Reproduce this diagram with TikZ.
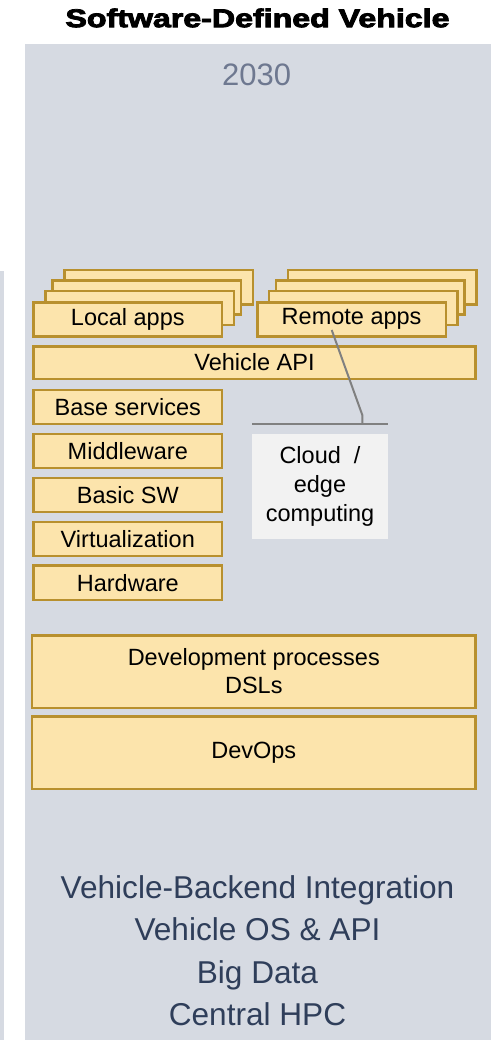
\documentclass[tikz,border=0pt]{standalone}
\usepackage{fontspec}
\usepackage{graphicx}
\setmainfont{Liberation Sans}
\newfontfamily\titlefont[FakeBold=3]{Liberation Sans Bold}

\definecolor{panelgray}{RGB}{214,218,226}
\definecolor{boxfill}{RGB}{252,228,172}
\definecolor{boxedge}{RGB}{184,144,46}
\definecolor{cloudfill}{RGB}{242,242,242}
\definecolor{linkgray}{RGB}{128,128,128}
\definecolor{yeargray}{RGB}{110,120,144}
\definecolor{navytext}{RGB}{47,62,90}

\tikzset{
  layerbox/.style={draw=boxedge, fill=boxfill, line width=2.5pt, inner sep=0pt,
    minimum width=188.5pt, minimum height=34.1pt, align=center,
    font=\fontsize{23.5}{29}\selectfont},
  widebox/.style={layerbox, minimum width=442pt},
  link/.style={draw=linkgray, line width=2pt},
}

\begin{document}
\begin{tikzpicture}[x=1pt, y=-1pt]
\useasboundingbox (0,0) rectangle (495,1040);

% background panels
\fill[panelgray] (25,44) rectangle (491,1040);
\fill[panelgray] (0,271) rectangle (4,1040);

% heading and year
\node (title) at (257.5,18)
  {\resizebox{384pt}{18.6pt}{\titlefont Software-Defined Vehicle}};
\node[text=yeargray, font=\fontsize{31}{36}\selectfont] (year) at (256.7,74.5) {2030};

% stacked application boxes
\node[layerbox] (la4) at (158.8,287.3) {};
\node[layerbox] (la3) at (146.5,297.6) {};
\node[layerbox] (la2) at (139.8,308) {};
\node[layerbox] (local) at (127.8,319.3) {Local apps};

\node[layerbox] (ra4) at (382.3,287.3) {};
\node[layerbox] (ra3) at (370.3,297.6) {};
\node[layerbox] (ra2) at (363,308) {};
\node[layerbox] (remote) at (351.6,319.3) {Remote apps};

\node[widebox, minimum height=32.5pt] (api) at (254.5,362.5) {Vehicle API};

% vehicle software layers
\node[layerbox] (base) at (127.8,407) {Base services};
\node[layerbox] (mw) at (127.8,451) {Middleware};
\node[layerbox] (bsw) at (127.8,495) {Basic SW};
\node[layerbox] (virt) at (127.8,539) {Virtualization};
\node[layerbox] (hw) at (127.8,582.7) {Hardware};

% off-board computing
\node[fill=cloudfill, minimum width=135.4pt, minimum height=105.6pt, inner sep=0pt,
  align=center, font=\fontsize{23.5}{29.3}\selectfont] (cloud) at (320,486.5)
  {Cloud\ \ /\\edge\\computing};

% process layers
\node[widebox, minimum width=443.2pt, minimum height=72.5pt,
  font=\fontsize{23.5}{28}\selectfont] (dev) at (253.8,671.5)
  {Development processes\\DSLs};
\node[widebox, minimum width=443.2pt, minimum height=72.5pt] (devops) at (253.8,752.5) {DevOps};

% key topics
\node[text=navytext, align=center, font=\fontsize{31.6}{42.5}\selectfont] (topics) at (257.5,950.5)
  {Vehicle-Backend Integration\\Vehicle OS \& API\\Big Data\\Central HPC};

% link from remote apps to the cloud
\coordinate (tap) at (331.7,330);
\coordinate (bend) at (362.3,415);
\coordinate (bracketM) at (362.3,424);
\coordinate (bracketL) at (252.3,424);
\coordinate (bracketR) at (387.7,424);
\draw[link] (tap) -- (bend) -- (bracketM);
\draw[link] (bracketL) -- (bracketR);
\end{tikzpicture}
\end{document}
